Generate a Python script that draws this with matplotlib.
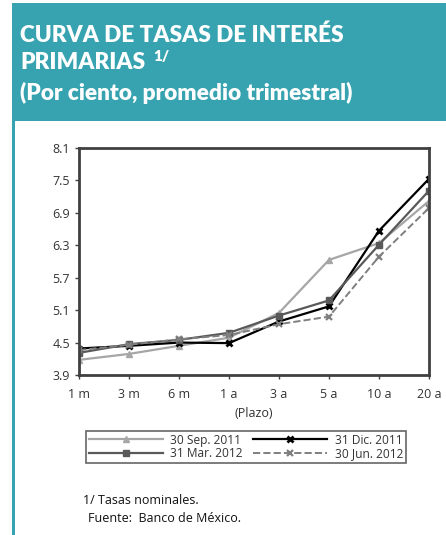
import matplotlib
matplotlib.use("Agg")
import matplotlib.pyplot as plt
from matplotlib.patches import Rectangle

#chart data
plazos = ['1 m', '3 m', '6 m', '1 a', '3 a', '5 a', '10 a', '20 a']
sep_2011 = [4.18, 4.29, 4.44, 4.59, 5.05, 6.03, 6.34, 7.12]
dic_2011 = [4.39, 4.44, 4.50, 4.49, 4.89, 5.17, 6.57, 7.53]
mar_2012 = [4.31, 4.47, 4.55, 4.68, 5.00, 5.28, 6.31, 7.31]
jun_2012 = [4.36, 4.46, 4.56, 4.64, 4.84, 4.98, 6.09, 6.99]
y_ticks = [3.9, 4.5, 5.1, 5.7, 6.3, 6.9, 7.5, 8.1]

TEAL = '#37a3b0'
W, H = 446, 535

plt.rcParams['font.family'] = ['Open Sans', 'DejaVu Sans']

fig = plt.figure(figsize=(W / 100, H / 100), dpi=100)

#header box and left border
fig.patches.append(Rectangle((12 / W, 1 - 121 / H), 1, 118 / H, transform=fig.transFigure,
                             facecolor=TEAL, edgecolor='none'))
fig.patches.append(Rectangle((12 / W, 0), 2.5 / W, 1 - 121 / H, transform=fig.transFigure,
                             facecolor=TEAL, edgecolor='none'))

title_kw = dict(color='white', fontsize=16.3, fontweight='heavy', family=['Lato', 'DejaVu Sans'],
                va='center', ha='left')
fig.text(20 / W, 1 - 35 / H, 'CURVA DE TASAS DE INTERÉS', **title_kw)
fig.text(20 / W, 1 - 62 / H, 'PRIMARIAS', **title_kw)
fig.text(153 / W, 1 - 56 / H, '1/', color='white', fontsize=11, fontweight='heavy',
         family=['Lato', 'DejaVu Sans'], va='center', ha='left')
fig.text(20 / W, 1 - 93 / H, '(Por ciento, promedio trimestral)', **title_kw)

#axes
ax = fig.add_axes([79 / W, 1 - 375 / H, 350 / W, 227 / H])
x = list(range(len(plazos)))
l_sep, = ax.plot(x, sep_2011, color='#a6a6a6', lw=1.6, marker='^', ms=5, label='30 Sep. 2011')
l_dic, = ax.plot(x, dic_2011, color='#000000', lw=1.6, marker='x', ms=5, mew=2, label='31 Dic. 2011')
l_mar, = ax.plot(x, mar_2012, color='#595959', lw=1.6, marker='s', ms=5, label='31 Mar. 2012')
l_jun, = ax.plot(x, jun_2012, color='#7f7f7f', lw=1.4, ls='--', marker='x', ms=5, mew=1.6, label='30 Jun. 2012')

ax.set_xlim(0, 7)
ax.set_ylim(3.9, 8.1)
ax.set_yticks(y_ticks)
ax.set_yticklabels([f"{v:.1f}" for v in y_ticks])
ax.set_xticks(x)
ax.set_xticklabels(plazos)
for s in ax.spines.values():
    s.set_color('#404040')
    s.set_linewidth(2)
ax.tick_params(axis='both', colors='#404040', length=3, width=1, labelsize=9, labelcolor='#333333')
ax.tick_params(axis='x', pad=6)
ax.set_xlabel('(Plazo)', fontsize=9, color='#333333', labelpad=5)

#legend filled column-wise, so order gives rows Sep/Dic and Mar/Jun
handles = [l_sep, l_mar, l_dic, l_jun]
leg = fig.legend(handles=handles, labels=[h.get_label() for h in handles],
                 loc='center', bbox_to_anchor=(246 / W, 1 - 447 / H), ncol=2, fontsize=8.6,
                 frameon=True, fancybox=False, edgecolor='#404040', handlelength=6.2,
                 columnspacing=0.9, borderpad=0.25, labelspacing=0.08, handletextpad=0.6)
leg.get_frame().set_linewidth(1.2)
for t in leg.get_texts():
    t.set_color('#333333')

fig.text(83 / W, 1 - 500 / H, '1/ Tasas nominales.', fontsize=9, va='center', color='#111111')
fig.text(88 / W, 1 - 519 / H, 'Fuente:  Banco de México.', fontsize=9, va='center', color='#111111')

fig.savefig('out.png', dpi=100)
